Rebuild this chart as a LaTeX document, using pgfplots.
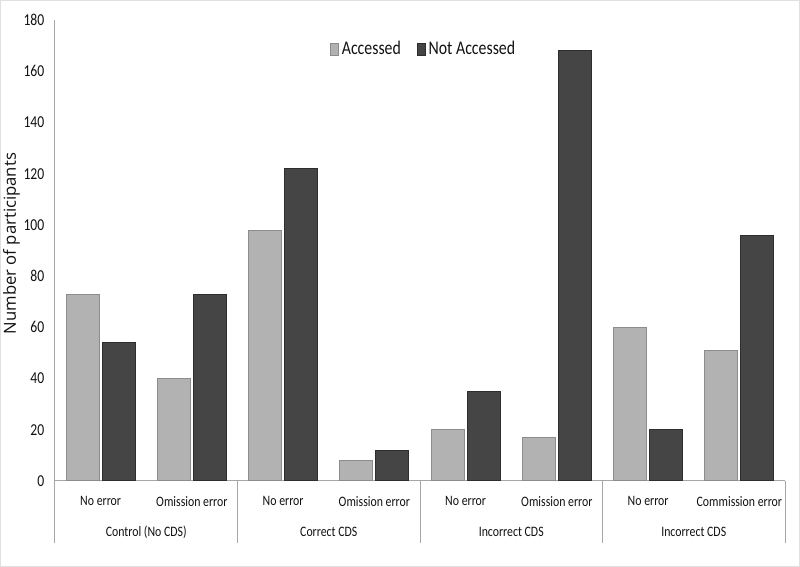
\documentclass[border=0pt]{standalone}
\usepackage{pgfplots}
\pgfplotsset{compat=1.18}
\usepackage{fontspec}
\setmainfont{Carlito}[FakeStretch=0.82]
\newfontfamily\ylabfont{Open Sans}
\definecolor{lightbar}{HTML}{B2B2B2}
\definecolor{lightedge}{HTML}{8C8C8C}
\definecolor{darkbar}{HTML}{454545}
\definecolor{darkedge}{HTML}{2E2E2E}
\definecolor{axisgray}{HTML}{A6A6A6}
\definecolor{txt}{HTML}{111111}
\begin{document}
\begin{tikzpicture}
\useasboundingbox (-41.25pt,-64.5pt) rectangle (558.75pt,360.75pt);
\draw[color=black!12, line width=0.75pt] (-40.875pt,-64.125pt) rectangle (558.375pt,360.375pt);
\begin{axis}[
  at={(0,0)}, anchor=south west,
  scale only axis, width=547.5pt, height=345.75pt,
  ybar=2.25pt, bar width=24.75pt,
  xmin=-0.5, xmax=7.5, ymin=0, ymax=180,
  axis x line*=bottom, axis y line*=left,
  axis line style={-, draw=axisgray, line width=0.75pt},
  xtick={0,...,7},
  xticklabels={No error, Omission error, No error, Omission error, No error, Omission error, No error, Commission error},
  ytick={0,20,...,180},
  major tick length=0pt,
  tick style={draw=none},
  xticklabel style={font=\fontsize{10.8}{12}\selectfont, text=txt, yshift=-8pt},
  yticklabel style={font=\fontsize{12.5}{14}\selectfont, text=txt, xshift=-4.5pt},
  /pgf/number format/assume math mode=true,
  ylabel={Number of participants},
  ylabel style={at={(axis description cs:-0.0596,0.515)}, anchor=center, text=txt, font=\ylabfont\fontsize{12.5}{14}\selectfont},
  legend style={at={(0.5055,0.937)}, anchor=center, draw=none, fill=none, legend columns=2, text=txt,
    font=\fontsize{14.5}{16}\selectfont,
    /tikz/every even column/.append style={column sep=10pt}},
  clip=false,
]
\addplot[fill=lightbar, draw=lightedge, line width=0.75pt,
  legend image code/.code={\draw[fill=lightbar, draw=lightedge] (0pt,-4.5pt) rectangle (6pt,4.5pt);}]
  coordinates {(0,73) (1,40) (2,98) (3,8) (4,20) (5,17) (6,60) (7,51)};
\addplot[fill=darkbar, draw=darkedge, line width=0.75pt,
  legend image code/.code={\draw[fill=darkbar, draw=darkedge] (0pt,-4.5pt) rectangle (6pt,4.5pt);}]
  coordinates {(0,54) (1,73) (2,122) (3,12) (4,35) (5,168) (6,20) (7,96)};
\legend{Accessed, Not Accessed}
\pgfplotsinvokeforeach{-0.5,1.5,3.5,5.5,7.5}{\draw[axisgray, line width=0.75pt] (axis cs:#1,0) -- ++(0pt,-46.5pt);}
\node[font=\fontsize{10.8}{12}\selectfont, text=txt] at ([yshift=-38.25pt]axis cs:0.5,0) {Control (No CDS)};
\node[font=\fontsize{10.8}{12}\selectfont, text=txt] at ([yshift=-38.25pt]axis cs:2.5,0) {Correct CDS};
\node[font=\fontsize{10.8}{12}\selectfont, text=txt] at ([yshift=-38.25pt]axis cs:4.5,0) {Incorrect CDS};
\node[font=\fontsize{10.8}{12}\selectfont, text=txt] at ([yshift=-38.25pt]axis cs:6.5,0) {Incorrect CDS};
\end{axis}
\end{tikzpicture}
\end{document}
